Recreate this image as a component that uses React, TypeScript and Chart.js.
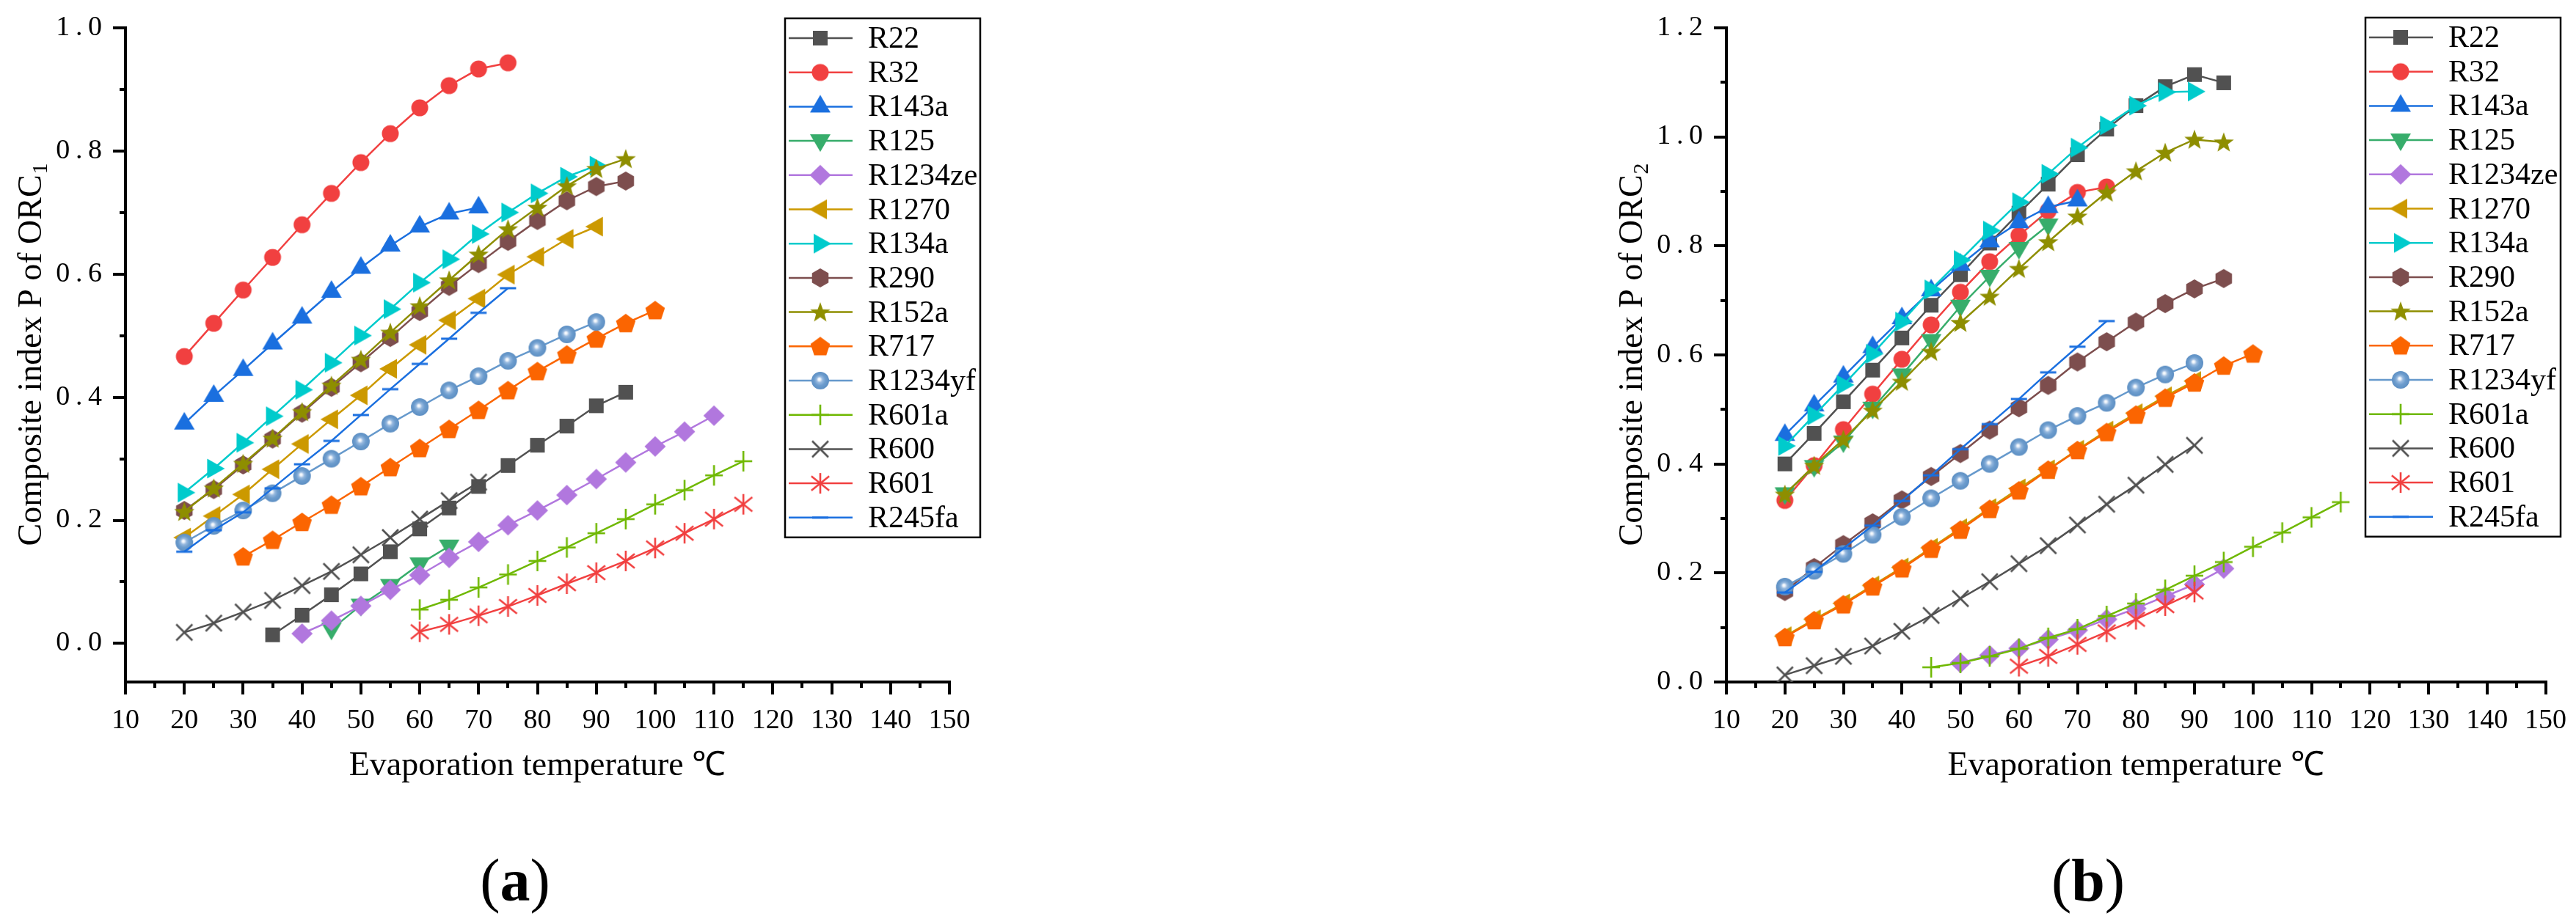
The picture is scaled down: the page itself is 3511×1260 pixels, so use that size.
import React, { useEffect, useRef } from 'react';
import { Chart, registerables } from 'chart.js';

Chart.register(...registerables);

const FONT = "'Liberation Serif', 'Times New Roman', serif";

// ---------- categories / styling lists ----------
const NAMES = ['R22', 'R32', 'R143a', 'R125', 'R1234ze', 'R1270', 'R134a', 'R290', 'R152a', 'R717', 'R1234yf', 'R601a', 'R600', 'R601', 'R245fa'];
const COLORS = ['#515151', '#F14040', '#1A6FDF', '#37AD6B', '#B177DE', '#CC9900', '#00CBCC', '#7D4E4E', '#8E8E00', '#FB6501', '#6699CC', '#6FB802', '#515151', '#F14040', '#1A6FDF'];
const MARKERS = ['square', 'circle', 'triUp', 'triDown', 'diamond', 'triLeft', 'triRight', 'hexagon', 'star', 'pentagon', 'sphere', 'plus', 'x', 'asterisk', 'dash'];

const TEMPS = [20, 25, 30, 35, 40, 45, 50, 55, 60, 65, 70, 75, 80, 85, 90, 95, 100, 105, 110, 115];
const X_TICKS = [10, 20, 30, 40, 50, 60, 70, 80, 90, 100, 110, 120, 130, 140, 150];
const X_MINOR = [15, 25, 35, 45, 55, 65, 75, 85, 95, 105, 115, 125, 135, 145];
const A_Y_TICKS = [0, 0.2, 0.4, 0.6, 0.8, 1.0];
const A_Y_MINOR = [0.1, 0.3, 0.5, 0.7, 0.9];
const B_Y_TICKS = [0, 0.2, 0.4, 0.6, 0.8, 1.0, 1.2];
const B_Y_MINOR = [0.1, 0.3, 0.5, 0.7, 0.9, 1.1];

// ---------- panel (a): ORC1 ----------
const A_START = [35, 20, 20, 45, 40, 20, 20, 20, 20, 30, 20, 60, 20, 60, 20];
const A_R22 = [0.014, 0.046, 0.079, 0.113, 0.149, 0.186, 0.220, 0.255, 0.289, 0.322, 0.353, 0.386, 0.408];
const A_R32 = [0.466, 0.520, 0.574, 0.627, 0.680, 0.731, 0.781, 0.828, 0.870, 0.906, 0.933, 0.943];
const A_R143A = [0.357, 0.402, 0.444, 0.487, 0.529, 0.571, 0.610, 0.646, 0.677, 0.698, 0.708];
const A_R125 = [0.023, 0.062, 0.094, 0.129, 0.158];
const A_R1234ZE = [0.016, 0.037, 0.061, 0.087, 0.111, 0.139, 0.165, 0.192, 0.216, 0.241, 0.267, 0.294, 0.320, 0.344, 0.370];
const A_R1270 = [0.172, 0.207, 0.242, 0.283, 0.324, 0.364, 0.403, 0.446, 0.485, 0.525, 0.560, 0.599, 0.628, 0.657, 0.677];
const A_R134A = [0.245, 0.284, 0.326, 0.369, 0.412, 0.456, 0.500, 0.543, 0.586, 0.624, 0.665, 0.700, 0.731, 0.758, 0.776];
const A_R290 = [0.216, 0.250, 0.290, 0.332, 0.374, 0.416, 0.456, 0.497, 0.539, 0.580, 0.617, 0.653, 0.687, 0.719, 0.742, 0.751];
const A_R152A = [0.214, 0.252, 0.292, 0.333, 0.376, 0.419, 0.461, 0.505, 0.548, 0.590, 0.632, 0.673, 0.708, 0.743, 0.771, 0.787];
const A_R717 = [0.141, 0.168, 0.197, 0.225, 0.255, 0.286, 0.317, 0.348, 0.379, 0.411, 0.442, 0.469, 0.495, 0.520, 0.541];
const A_R1234YF = [0.164, 0.191, 0.216, 0.244, 0.272, 0.300, 0.328, 0.357, 0.384, 0.411, 0.434, 0.459, 0.480, 0.502, 0.522];
const A_R601A = [0.055, 0.071, 0.091, 0.112, 0.134, 0.156, 0.179, 0.202, 0.226, 0.249, 0.273, 0.296];
const A_R600 = [0.018, 0.033, 0.051, 0.070, 0.094, 0.117, 0.144, 0.172, 0.202, 0.232, 0.262];
const A_R601 = [0.019, 0.031, 0.045, 0.060, 0.078, 0.097, 0.115, 0.134, 0.155, 0.179, 0.202, 0.226];
const A_R245FA = [0.149, 0.184, 0.213, 0.252, 0.291, 0.329, 0.371, 0.413, 0.454, 0.495, 0.537, 0.577];

// ---------- panel (b): ORC2 ----------
const B_START = [20, 20, 20, 20, 50, 20, 20, 20, 20, 20, 20, 45, 20, 60, 20];
const B_R22 = [0.400, 0.456, 0.514, 0.572, 0.631, 0.691, 0.747, 0.805, 0.860, 0.913, 0.967, 1.014, 1.057, 1.092, 1.114, 1.099];
const B_R32 = [0.333, 0.397, 0.463, 0.528, 0.592, 0.655, 0.715, 0.771, 0.819, 0.864, 0.898, 0.908];
const B_R143A = [0.453, 0.507, 0.560, 0.614, 0.667, 0.718, 0.765, 0.808, 0.843, 0.871, 0.883];
const B_R125 = [0.345, 0.395, 0.440, 0.502, 0.563, 0.626, 0.689, 0.744, 0.795, 0.838];
const B_R1234ZE = [0.035, 0.049, 0.062, 0.078, 0.095, 0.115, 0.135, 0.157, 0.179, 0.208];
const B_R1270 = [0.084, 0.115, 0.144, 0.177, 0.210, 0.246, 0.282, 0.319, 0.355, 0.390, 0.426, 0.461, 0.493, 0.524, 0.552];
const B_R134A = [0.433, 0.489, 0.545, 0.602, 0.661, 0.720, 0.774, 0.828, 0.880, 0.932, 0.980, 1.021, 1.057, 1.082, 1.083];
const B_R290 = [0.166, 0.210, 0.252, 0.292, 0.334, 0.377, 0.419, 0.462, 0.503, 0.544, 0.587, 0.624, 0.660, 0.694, 0.721, 0.740];
const B_R152A = [0.344, 0.397, 0.445, 0.498, 0.551, 0.606, 0.659, 0.707, 0.758, 0.807, 0.854, 0.898, 0.937, 0.971, 0.995, 0.990];
const B_R717 = [0.082, 0.113, 0.142, 0.175, 0.208, 0.244, 0.279, 0.317, 0.351, 0.389, 0.425, 0.458, 0.490, 0.521, 0.549, 0.580, 0.602];
const B_R1234YF = [0.175, 0.204, 0.235, 0.270, 0.303, 0.337, 0.369, 0.400, 0.431, 0.462, 0.488, 0.512, 0.540, 0.564, 0.585];
const B_R601A = [0.027, 0.035, 0.047, 0.061, 0.081, 0.097, 0.121, 0.144, 0.169, 0.195, 0.220, 0.248, 0.274, 0.302, 0.330];
const B_R600 = [0.013, 0.030, 0.047, 0.066, 0.093, 0.122, 0.153, 0.184, 0.217, 0.250, 0.288, 0.326, 0.361, 0.399, 0.434];
const B_R601 = [0.029, 0.047, 0.069, 0.092, 0.115, 0.140, 0.165];
const B_R245FA = [0.164, 0.202, 0.245, 0.287, 0.332, 0.379, 0.427, 0.473, 0.519, 0.568, 0.615, 0.662];

const A_VALUES = [A_R22, A_R32, A_R143A, A_R125, A_R1234ZE, A_R1270, A_R134A, A_R290, A_R152A, A_R717, A_R1234YF, A_R601A, A_R600, A_R601, A_R245FA];
const B_VALUES = [B_R22, B_R32, B_R143A, B_R125, B_R1234ZE, B_R1270, B_R134A, B_R290, B_R152A, B_R717, B_R1234YF, B_R601A, B_R600, B_R601, B_R245FA];

// ---------- marker images ----------
function makeMarker(kind: string, color: string): HTMLCanvasElement {
  const S = 40;
  const c = document.createElement('canvas');
  c.width = S;
  c.height = S;
  const g = c.getContext('2d') as CanvasRenderingContext2D;
  const cx = S / 2;
  const cy = S / 2;
  g.fillStyle = color;
  g.strokeStyle = color;
  g.lineWidth = 2.6;
  const poly = (pts: number[][]) => {
    g.beginPath();
    pts.forEach(([x, y], i) => (i ? g.lineTo(x, y) : g.moveTo(x, y)));
    g.closePath();
    g.fill();
  };
  const reg = (n: number, r: number, start: number) => {
    const pts: number[][] = [];
    for (let i = 0; i < n; i++) {
      const a = start + (i * 2 * Math.PI) / n;
      pts.push([cx + r * Math.cos(a), cy + r * Math.sin(a)]);
    }
    return pts;
  };
  const seg = (x1: number, y1: number, x2: number, y2: number) => {
    g.beginPath();
    g.moveTo(x1, y1);
    g.lineTo(x2, y2);
    g.stroke();
  };
  switch (kind) {
    case 'square':
      g.fillRect(cx - 10, cy - 10, 20, 20);
      break;
    case 'circle':
      g.beginPath();
      g.arc(cx, cy, 11.5, 0, Math.PI * 2);
      g.fill();
      break;
    case 'triUp':
      poly([[cx, cy - 16], [cx + 14, cy + 8], [cx - 14, cy + 8]]);
      break;
    case 'triDown':
      poly([[cx, cy + 15], [cx + 14, cy - 9], [cx - 14, cy - 9]]);
      break;
    case 'diamond':
      poly([[cx, cy - 14], [cx + 14.5, cy], [cx, cy + 14], [cx - 14.5, cy]]);
      break;
    case 'triLeft':
      poly([[cx - 15, cy], [cx + 9, cy - 13.5], [cx + 9, cy + 13.5]]);
      break;
    case 'triRight':
      poly([[cx + 15, cy], [cx - 9, cy - 13.5], [cx - 9, cy + 13.5]]);
      break;
    case 'hexagon':
      poly(reg(6, 13, -Math.PI / 2));
      break;
    case 'star': {
      const pts: number[][] = [];
      for (let i = 0; i < 10; i++) {
        const r = i % 2 === 0 ? 14.5 : 6;
        const a = -Math.PI / 2 + (i * Math.PI) / 5;
        pts.push([cx + r * Math.cos(a), cy + 1 + r * Math.sin(a)]);
      }
      poly(pts);
      break;
    }
    case 'pentagon':
      poly(reg(5, 14, -Math.PI / 2).map(([x, y]) => [x, y + 1]));
      break;
    case 'sphere': {
      const grad = g.createRadialGradient(cx - 1.5, cy - 2, 0, cx, cy, 12);
      grad.addColorStop(0, '#ffffff');
      grad.addColorStop(0.13, '#eef4fb');
      grad.addColorStop(0.34, '#97b9df');
      grad.addColorStop(0.62, '#6d9dce');
      grad.addColorStop(1, '#5d8fc3');
      g.fillStyle = grad;
      g.beginPath();
      g.arc(cx, cy, 12, 0, Math.PI * 2);
      g.fill();
      break;
    }
    case 'plus':
      seg(cx - 12, cy, cx + 12, cy);
      seg(cx, cy - 14, cx, cy + 14);
      break;
    case 'x':
      seg(cx - 11, cy - 11, cx + 11, cy + 11);
      seg(cx - 11, cy + 11, cx + 11, cy - 11);
      break;
    case 'asterisk': {
      seg(cx, cy - 14, cx, cy + 14);
      const dx = 14 * Math.cos(Math.PI / 6);
      const dy = 14 * Math.sin(Math.PI / 6) * 1.4;
      seg(cx - dx, cy - dy, cx + dx, cy + dy);
      seg(cx - dx, cy + dy, cx + dx, cy - dy);
      break;
    }
    case 'dash':
      g.fillRect(cx - 11, cy - 1.5, 22, 3);
      break;
  }
  return c;
}

type PanelCfg = {
  starts: number[];
  values: number[][];
  yMin: number;
  yMax: number;
  yTicks: number[];
  yMinor: number[];
  sub: string;
  width: number;
  height: number;
  yAxisWidth: number;
  padRight: number;
  titleX: number;
  legendX: number;
  legendY: number;
};

const LEGEND_W = 266;
const LEGEND_ROW = 46.7;
const LEGEND_FIRST = 27;

function makeDecor(cfg: PanelCfg, markers: HTMLCanvasElement[]) {
  return {
    id: 'decor',
    afterDraw(chart: any) {
      const ctx: CanvasRenderingContext2D = chart.ctx;
      const xs = chart.scales.x;
      const ys = chart.scales.y;
      const area = chart.chartArea;
      ctx.save();
      // minor ticks
      ctx.strokeStyle = '#000';
      ctx.lineWidth = 4;
      ctx.lineCap = 'butt';
      for (const v of X_MINOR) {
        const p = Math.round(xs.getPixelForValue(v));
        ctx.beginPath();
        ctx.moveTo(p, area.bottom + 2);
        ctx.lineTo(p, area.bottom + 8);
        ctx.stroke();
      }
      for (const v of cfg.yMinor) {
        const p = Math.round(ys.getPixelForValue(v));
        ctx.beginPath();
        ctx.moveTo(area.left - 2, p);
        ctx.lineTo(area.left - 8, p);
        ctx.stroke();
      }
      // y axis title with subscript
      ctx.save();
      ctx.translate(cfg.titleX, (area.top + area.bottom) / 2);
      ctx.rotate(-Math.PI / 2);
      ctx.fillStyle = '#000';
      ctx.textBaseline = 'alphabetic';
      ctx.textAlign = 'left';
      const main = 'Composite index P of ORC';
      ctx.font = `46px ${FONT}`;
      const wm = ctx.measureText(main).width;
      ctx.font = `30px ${FONT}`;
      const ws = ctx.measureText(cfg.sub).width;
      const start = -(wm + ws) / 2;
      ctx.font = `46px ${FONT}`;
      ctx.fillText(main, start, 15);
      ctx.font = `30px ${FONT}`;
      ctx.fillText(cfg.sub, start + wm + 1, 23);
      ctx.restore();
      // legend
      const L = cfg.legendX;
      const T = cfg.legendY;
      const H = LEGEND_FIRST * 2 + LEGEND_ROW * (NAMES.length - 1);
      ctx.fillStyle = '#fff';
      ctx.fillRect(L, T, LEGEND_W, H);
      ctx.strokeStyle = '#000';
      ctx.lineWidth = 2.5;
      ctx.strokeRect(L, T, LEGEND_W, H);
      ctx.font = `42px ${FONT}`;
      ctx.textBaseline = 'middle';
      ctx.textAlign = 'left';
      NAMES.forEach((name, i) => {
        const y = T + LEGEND_FIRST + i * LEGEND_ROW;
        ctx.strokeStyle = COLORS[i];
        ctx.lineWidth = 2.5;
        ctx.beginPath();
        ctx.moveTo(L + 5, y);
        ctx.lineTo(L + 92, y);
        ctx.stroke();
        ctx.drawImage(markers[i], L + 48 - 20, y - 20);
        ctx.fillStyle = '#000';
        ctx.fillText(name, L + 113, y + 2);
      });
      ctx.restore();
    },
  };
}

function fmtY(v: number) {
  const s = v.toFixed(1);
  const [a, b] = s.split('.');
  return `${a}\u2009.\u2009${b}`;
}

function Panel({ cfg, left }: { cfg: PanelCfg; left: number }) {
  const ref = useRef<HTMLCanvasElement | null>(null);
  useEffect(() => {
    const canvas = ref.current;
    if (!canvas) return;
    const markers = MARKERS.map((m, i) => makeMarker(m, COLORS[i]));
    const datasets = NAMES.map((name, i) => {
      const s0 = TEMPS.indexOf(cfg.starts[i]);
      const pts = cfg.values[i].map((v, k) => ({ x: TEMPS[s0 + k], y: v }));
      return {
        label: name,
        data: pts,
        borderColor: COLORS[i],
        backgroundColor: COLORS[i],
        borderWidth: 2.5,
        pointStyle: markers[i] as any,
        pointRadius: 12,
        pointHoverRadius: 12,
        pointBorderWidth: 0,
        tension: 0,
        fill: false,
        order: NAMES.length - i,
      };
    });
    const tickFont = { family: FONT, size: 38 };
    const chart = new Chart(canvas, {
      type: 'line',
      data: { datasets },
      options: {
        responsive: false,
        animation: false,
        events: [],
        layout: { padding: { top: 26, left: 0, right: cfg.padRight, bottom: 20 } },
        plugins: { legend: { display: false }, tooltip: { enabled: false } },
        scales: {
          x: {
            type: 'linear',
            position: 'bottom',
            min: 10,
            max: 150,
            afterBuildTicks: (s: any) => {
              s.ticks = X_TICKS.map((v) => ({ value: v }));
            },
            afterFit: (s: any) => {
              s.height = 150;
            },
            ticks: {
              font: tickFont,
              color: '#000',
              padding: 13,
              maxRotation: 0,
              autoSkip: false,
              callback: (v: any) => String(v),
            },
            grid: { drawOnChartArea: false, drawTicks: true, tickLength: 17, tickWidth: 4, tickColor: '#000', lineWidth: 4 },
            border: { display: true, color: '#000', width: 4 },
            title: {
              display: true,
              text: 'Evaporation temperature \u2103',
              font: { family: FONT, size: 46 },
              color: '#000',
              padding: { top: 0, bottom: 7 },
            },
          },
          y: {
            type: 'linear',
            position: 'left',
            min: cfg.yMin,
            max: cfg.yMax,
            afterBuildTicks: (s: any) => {
              s.ticks = cfg.yTicks.map((v) => ({ value: v }));
            },
            afterFit: (s: any) => {
              s.width = cfg.yAxisWidth;
            },
            ticks: {
              font: tickFont,
              color: '#000',
              padding: 15,
              autoSkip: false,
              callback: (v: any) => fmtY(Number(v)),
            },
            grid: { drawOnChartArea: false, drawTicks: true, tickLength: 17, tickWidth: 4, tickColor: '#000', lineWidth: 4 },
            border: { display: true, color: '#000', width: 4 },
          },
        },
      },
      plugins: [makeDecor(cfg, markers)],
    } as any);
    return () => chart.destroy();
  }, [cfg]);
  return (
    <canvas
      ref={ref}
      width={cfg.width}
      height={cfg.height}
      style={{ position: 'absolute', left, top: 0, width: cfg.width, height: cfg.height }}
    />
  );
}

const CFG_A: PanelCfg = {
  starts: A_START,
  values: A_VALUES,
  yMin: -0.0626,
  yMax: 1.0,
  yTicks: A_Y_TICKS,
  yMinor: A_Y_MINOR,
  sub: '1',
  width: 1400,
  height: 1100,
  yAxisWidth: 171,
  padRight: 106,
  titleX: 41,
  legendX: 1070,
  legendY: 25,
};

const CFG_B: PanelCfg = {
  starts: B_START,
  values: B_VALUES,
  yMin: 0,
  yMax: 1.2,
  yTicks: B_Y_TICKS,
  yMinor: B_Y_MINOR,
  sub: '2',
  width: 1331,
  height: 1100,
  yAxisWidth: 173,
  padRight: 37,
  titleX: 43,
  legendX: 1044,
  legendY: 24,
};

function PanelLabel({ cx, letter }: { cx: number; letter: string }) {
  return (
    <div
      style={{
        position: 'absolute',
        left: cx - 100,
        top: 1151,
        width: 200,
        height: 100,
        lineHeight: '100px',
        textAlign: 'center',
        fontFamily: FONT,
        fontSize: 82,
        color: '#000',
        whiteSpace: 'nowrap',
      }}
    >
      (<b>{letter}</b>)
    </div>
  );
}

export default function App() {
  return (
    <div style={{ position: 'absolute', left: 0, top: 0, width: 3511, height: 1260, background: '#fff', overflow: 'hidden' }}>
      <Panel cfg={CFG_A} left={0} />
      <Panel cfg={CFG_B} left={2180} />
      <PanelLabel cx={702} letter="a" />
      <PanelLabel cx={2846} letter="b" />
    </div>
  );
}
